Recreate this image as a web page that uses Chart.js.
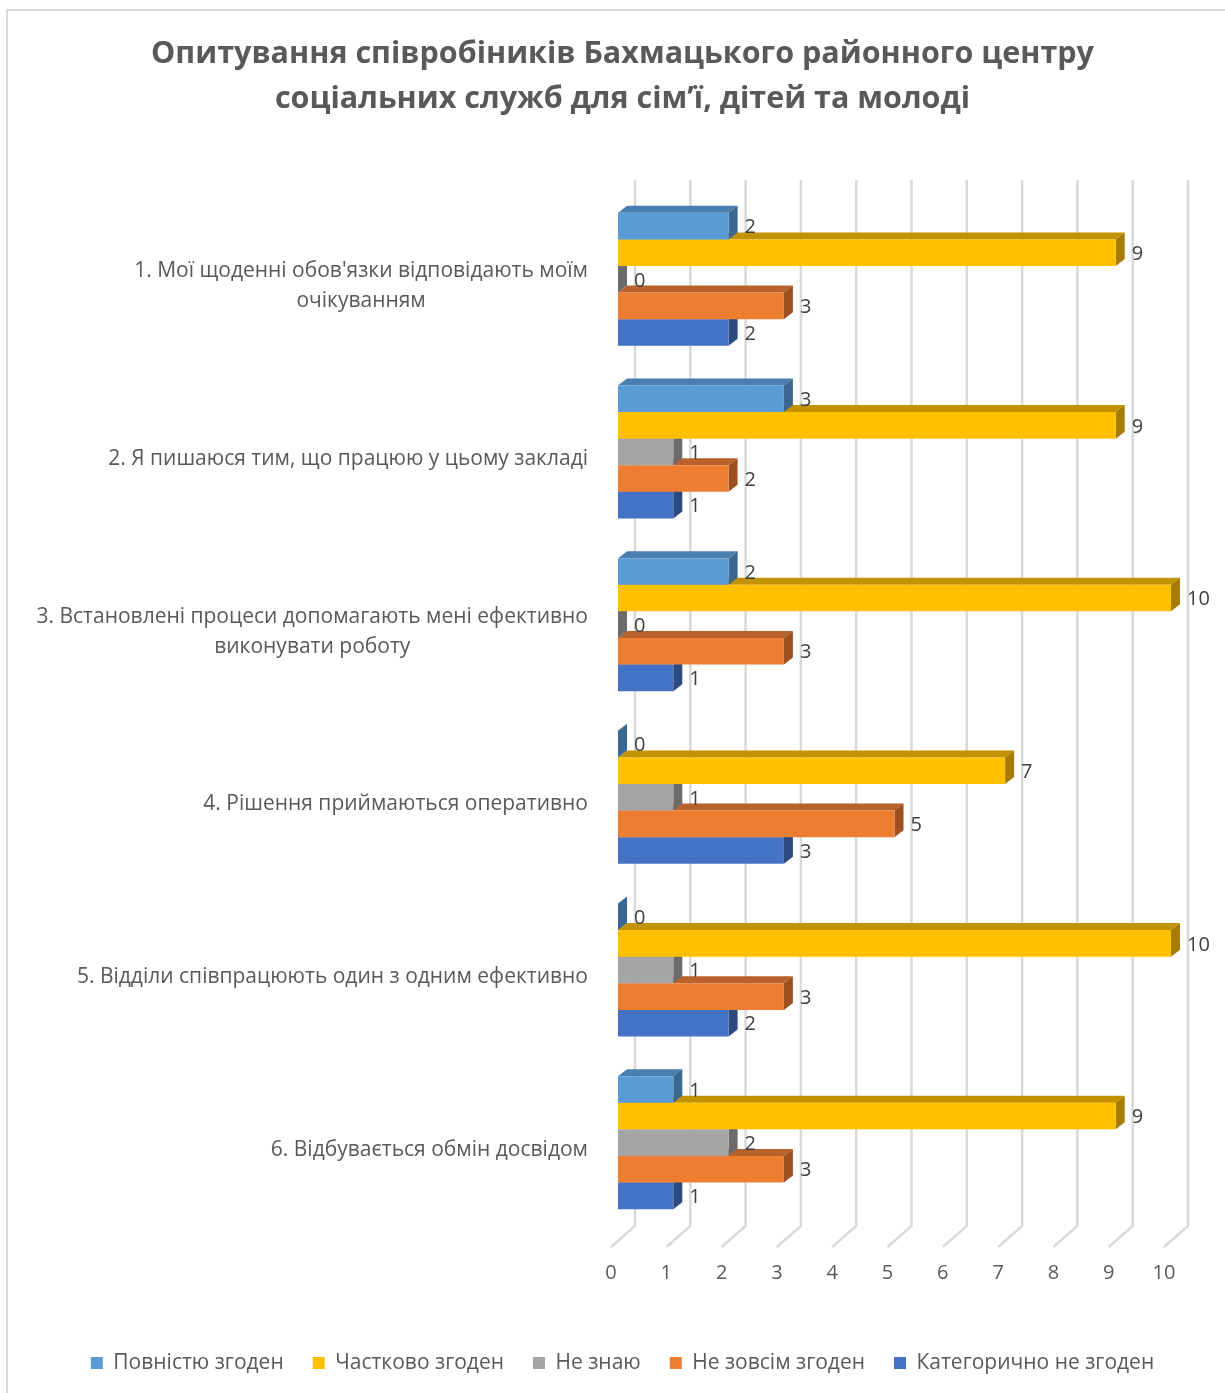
<!DOCTYPE html>
<html>
<head>
<meta charset="utf-8">
<script src="https://cdn.jsdelivr.net/npm/chart.js@4.4.1/dist/chart.umd.min.js"></script>
<style>
    html, body { margin: 0; padding: 0; background: #ffffff; }
    canvas { display: block; }
</style>
</head>
<body>
<canvas id="surveyChart" width="1225" height="1393"></canvas>
<script>
// Chart data
const titleLines = [
    'Опитування співробіників Бахмацького районного центру',
    'соціальних служб для сім’ї, дітей та молоді'
];
const categories = [
    ["1. Мої щоденні обов'язки відповідають моїм", 'очікуванням'],
    ['2. Я пишаюся тим, що працюю у цьому закладі'],
    ['3. Встановлені процеси допомагають мені ефективно', 'виконувати роботу'],
    ['4. Рішення приймаються оперативно'],
    ['5. Відділи співпрацюють один з одним ефективно'],
    ['6. Відбувається обмін досвідом']
];
const seriesNames = ['Повністю згоден', 'Частково згоден', 'Не знаю', 'Не зовсім згоден', 'Категорично не згоден'];
const fullyAgree = [2, 3, 2, 0, 0, 1];
const partlyAgree = [9, 9, 10, 7, 10, 9];
const dontKnow = [0, 1, 0, 1, 1, 2];
const notQuiteAgree = [3, 2, 3, 5, 3, 3];
const totallyDisagree = [2, 1, 1, 3, 2, 1];
const xTickValues = [0, 1, 2, 3, 4, 5, 6, 7, 8, 9, 10];

// front / top / side colours of the 3D bars
const frontColors = ['#5B9BD5', '#FFC000', '#A5A5A5', '#ED7D31', '#4472C4'];
const topColors   = ['#4A7EAE', '#C29200', '#7E7E7E', '#B9612A', '#36599A'];
const sideColors  = ['#3B6790', '#A67C00', '#6B6B6B', '#9E5020', '#2C4A80'];

const DEPTH_X = 9;
const DEPTH_Y = -7;
const FONT = "'Open Sans', 'Noto Sans', sans-serif";

// bar faces (top + side), drawn just before each dataset's front faces
const bars3d = {
    id: 'bars3d',
    beforeDatasetDraw(chart, args) {
        const ctx = chart.ctx;
        const i = args.index;
        args.meta.data.forEach(bar => {
            const p = bar.getProps(['x', 'y', 'base', 'height'], true);
            const top = p.y - p.height / 2;
            const bottom = p.y + p.height / 2;
            ctx.save();
            ctx.fillStyle = topColors[i];
            ctx.beginPath();
            ctx.moveTo(p.base, top);
            ctx.lineTo(p.base + DEPTH_X, top + DEPTH_Y);
            ctx.lineTo(p.x + DEPTH_X, top + DEPTH_Y);
            ctx.lineTo(p.x, top);
            ctx.closePath();
            ctx.fill();
            ctx.fillStyle = sideColors[i];
            ctx.beginPath();
            ctx.moveTo(p.x, top);
            ctx.lineTo(p.x + DEPTH_X, top + DEPTH_Y);
            ctx.lineTo(p.x + DEPTH_X, bottom + DEPTH_Y);
            ctx.lineTo(p.x, bottom);
            ctx.closePath();
            ctx.fill();
            ctx.restore();
        });
    }
};

// back wall grid + floor lines, frame, category labels, value labels
const decorations = {
    id: 'decorations',
    beforeDraw(chart) {
        const ctx = chart.ctx;
        ctx.save();
        ctx.strokeStyle = '#d9d9d9';
        ctx.lineWidth = 2;
        ctx.strokeRect(7, 10, 1400, 1600);
        ctx.restore();
    },
    beforeDatasetsDraw(chart) {
        const ctx = chart.ctx;
        const xs = chart.scales.x;
        const area = chart.chartArea;
        ctx.save();
        ctx.strokeStyle = '#d9d9d9';
        ctx.lineWidth = 2.5;
        xTickValues.forEach(v => {
            const px = xs.getPixelForValue(v);
            ctx.beginPath();
            ctx.moveTo(px + 17, area.top - 13);
            ctx.lineTo(px + 17, area.bottom - 3);
            ctx.lineTo(px - 7, area.bottom + 18);
            ctx.stroke();
        });
        ctx.restore();
    },
    afterDatasetsDraw(chart) {
        const ctx = chart.ctx;
        const ys = chart.scales.y;
        ctx.save();
        // category labels: block right aligned, lines centred inside the block
        ctx.font = '21px ' + FONT;
        ctx.fillStyle = '#595959';
        ctx.textBaseline = 'middle';
        ctx.textAlign = 'center';
        const lineH = 30;
        chart.data.labels.forEach((lines, i) => {
            const cy = ys.getPixelForValue(i) + 7;
            const w = Math.max(...lines.map(l => ctx.measureText(l).width));
            const cx = 588 - w / 2;
            lines.forEach((l, k) => {
                ctx.fillText(l, cx, cy + (k - (lines.length - 1) / 2) * lineH);
            });
        });
        // value labels
        ctx.font = '20px ' + FONT;
        ctx.fillStyle = '#404040';
        ctx.textAlign = 'left';
        chart.data.datasets.forEach((ds, di) => {
            chart.getDatasetMeta(di).data.forEach((bar, j) => {
                const p = bar.getProps(['x', 'y'], true);
                ctx.fillText(String(ds.data[j]), p.x + 16, p.y + 1.5);
            });
        });
        ctx.restore();
    }
};

const seriesData = [fullyAgree, partlyAgree, dontKnow, notQuiteAgree, totallyDisagree];

new Chart(document.getElementById('surveyChart'), {
    type: 'bar',
    data: {
        labels: categories,
        datasets: seriesNames.map((name, i) => ({
            label: name,
            data: seriesData[i],
            backgroundColor: frontColors[i],
            borderWidth: 0,
            barPercentage: 1,
            categoryPercentage: 0.77
        }))
    },
    options: {
        indexAxis: 'y',
        responsive: false,
        animation: false,
        layout: { padding: { top: 0, left: 20, right: 0, bottom: 9.5 } },
        plugins: {
            title: {
                display: true,
                text: titleLines,
                color: '#595959',
                font: { family: FONT, size: 30.5, weight: 'bold', lineHeight: 1.475 },
                padding: { top: 32, bottom: 71 }
            },
            legend: {
                position: 'bottom',
                labels: {
                    boxWidth: 12,
                    boxHeight: 12,
                    padding: 29,
                    color: '#595959',
                    font: { family: FONT, size: 21 }
                }
            },
            tooltip: { enabled: false }
        },
        scales: {
            x: {
                min: 0,
                max: 10,
                ticks: {
                    stepSize: 1,
                    color: '#595959',
                    font: { family: FONT, size: 20 },
                    padding: 32.6,
                    labelOffset: -7
                },
                grid: { display: false, drawTicks: false },
                border: { display: false },
                afterFit(scale) { scale.height = 94.5; }
            },
            y: {
                ticks: { display: false },
                grid: { display: false, drawTicks: false },
                border: { display: false },
                afterFit(scale) { scale.width = 598; }
            },
            yRight: {
                type: 'linear',
                position: 'right',
                ticks: { display: false },
                grid: { display: false, drawTicks: false },
                border: { display: false },
                afterFit(scale) { scale.width = 54; }
            }
        }
    },
    plugins: [bars3d, decorations]
});
</script>
</body>
</html>
